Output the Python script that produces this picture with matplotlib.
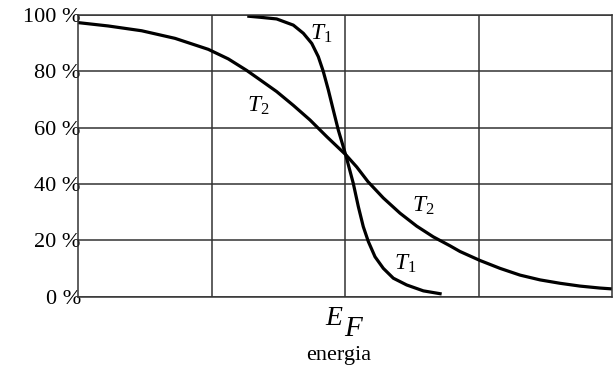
import matplotlib
matplotlib.use("Agg")
import matplotlib.pyplot as plt

plt.rcParams['font.family'] = ['Liberation Serif', 'DejaVu Serif']
plt.rcParams['mathtext.fontset'] = 'custom'
plt.rcParams['mathtext.rm'] = 'Liberation Serif'
plt.rcParams['mathtext.it'] = 'Liberation Serif:italic'

# curva T1 (temperatura baixa)
t1_x = [1.268, 1.363, 1.488, 1.613, 1.688, 1.751, 1.800, 1.837, 1.875, 1.912,
        1.950, 1.987, 2.007, 2.062, 2.100, 2.137, 2.175, 2.225, 2.287, 2.362,
        2.462, 2.587, 2.724]
t1_y = [99.6, 99.2, 98.6, 96.4, 93.5, 89.9, 85.2, 80, 73.4, 66.3,
        59.1, 53.2, 50, 40.2, 31.9, 24.8, 19.5, 14.1, 10, 6.5,
        4.1, 2.0, 0.9]

# curva T2 (temperatura alta)
t2_x = [0.0, 0.227, 0.477, 0.727, 0.976, 1.126, 1.264, 1.363, 1.488, 1.613,
        1.738, 1.863, 2.007, 2.088, 2.172, 2.287, 2.412, 2.537, 2.661, 2.787,
        2.861, 3.011, 3.161, 3.311, 3.461, 3.610, 3.760, 3.910, 4.0]
t2_y = [97.3, 96.1, 94.4, 91.7, 87.8, 84.4, 80.3, 77.0, 72.8, 67.9,
        62.7, 56.8, 50.3, 46.0, 40.8, 35.0, 29.6, 25.0, 21.2, 18.0,
        16.0, 12.8, 10, 7.6, 5.9, 4.7, 3.7, 3.0, 2.7]

yticks = [0, 20, 40, 60, 80, 100]
ytick_labels = ['0 %', '20 %', '40 %', '60 %', '80 %', '100 %']
xgrid = [1, 2, 3]

fig = plt.figure(figsize=(6.15, 3.67), dpi=100)
ax = fig.add_axes([78/615, 1 - 296.5/367, 534/615, 281.5/367])

ax.set_xlim(0, 4)
ax.set_ylim(0, 100)
ax.set_xticks(xgrid)
ax.set_xticklabels([])
ax.set_yticks(yticks)
ax.set_yticklabels(ytick_labels, fontsize=16)
ax.tick_params(length=0, pad=-2)
ax.grid(True, color='#333333', linewidth=1.1)
for s in ax.spines.values():
    s.set_color('#333333')
    s.set_linewidth(1.1)

ax.plot(t1_x, t1_y, color='black', lw=2.3, solid_capstyle='butt',
        solid_joinstyle='round')
ax.plot(t2_x, t2_y, color='black', lw=2.3, solid_capstyle='butt',
        solid_joinstyle='round')

lab = dict(fontsize=17, va='baseline', ha='left')
ax.text(1.738, 91.1, '$T_1$', **lab)
ax.text(1.264, 65.6, '$T_2$', **lab)
ax.text(2.5, 30.1, '$T_2$', **lab)
ax.text(2.367, 9.4, '$T_1$', **lab)

# E_F e legenda do eixo
fig.text(325/615, 1 - 325/367, 'E', fontsize=20, style='italic', ha='left', va='baseline')
fig.text(344/615, 1 - 336.5/367, 'F', fontsize=21, style='italic', ha='left', va='baseline')
fig.text(339/615, 1 - 360/367, 'energia', fontsize=16, ha='center', va='baseline')

fig.savefig('out.png', dpi=100)
